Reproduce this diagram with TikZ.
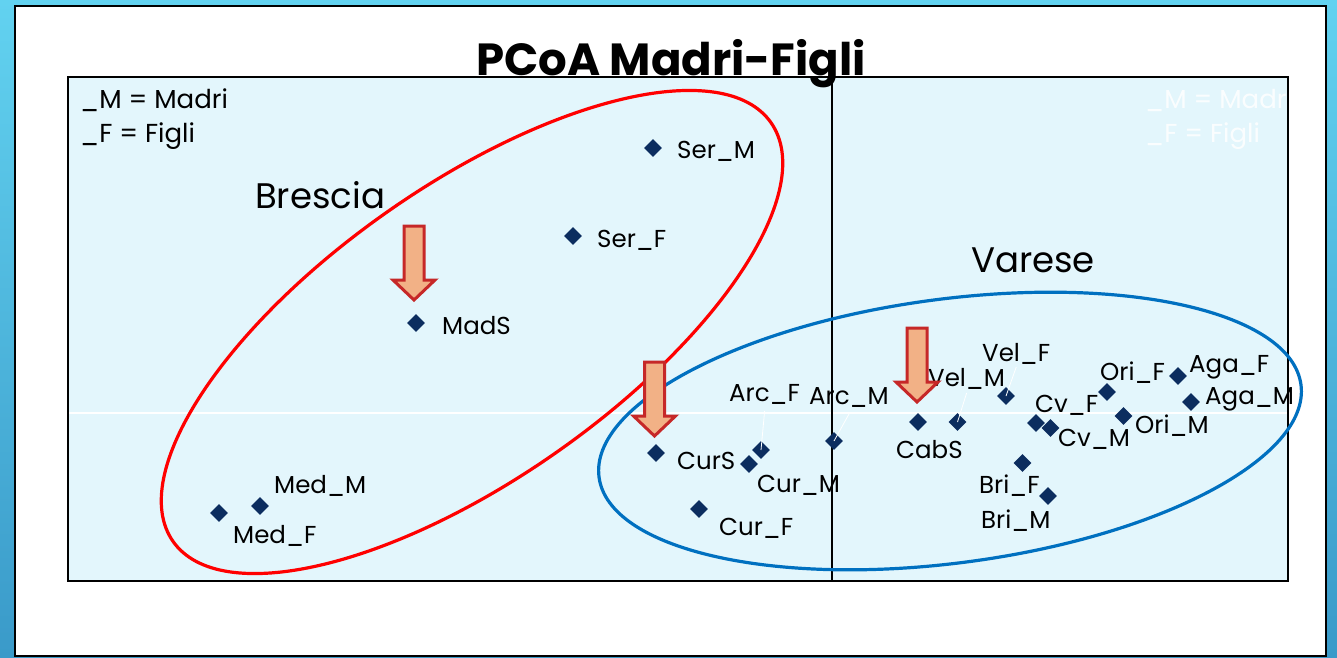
\documentclass[tikz,border=0pt]{standalone}
\usepackage{fontspec}
\setmainfont{Poppins}
\usetikzlibrary{shapes.geometric}

\definecolor{slidetop}{HTML}{62D2F0}
\definecolor{slidebot}{HTML}{3A9AC9}
\definecolor{plotbg}{HTML}{E3F6FC}
\definecolor{navy}{HTML}{0C2D5F}
\definecolor{brescia}{HTML}{FF0000}
\definecolor{varese}{HTML}{0070C0}
\definecolor{arrowfill}{HTML}{F2B186}
\definecolor{arrowline}{HTML}{C62828}

\tikzset{
  pt/.style={diamond, fill=navy, draw=none, inner sep=0pt, minimum size=18pt},
  lab/.style={anchor=base west, inner sep=0pt, text=black, font=\fontsize{24.5}{28}\selectfont},
  legend/.style={anchor=base west, inner sep=0pt, font=\fontsize{26}{30}\selectfont},
  group/.style={anchor=base west, inner sep=0pt, font=\fontsize{35.5}{42}\selectfont},
  leader/.style={draw=white, line width=0.8pt},
  cluster/.style={line width=3.2pt},
  downblk/.pic={
    \draw[draw=arrowline, fill=arrowfill, line width=3pt, line join=miter]
      (-10,0) -- (10,0) -- (10,54) -- (21,54) -- (0,74) -- (-21,54) -- (-10,54) -- cycle;
  }
}

\begin{document}
\begin{tikzpicture}[x=1pt,y=-1pt]
\useasboundingbox (0,0) rectangle (1337,657);

% slide background and white sheet
\shade[top color=slidetop, bottom color=slidebot] (0,0) rectangle (1337,657);
\draw[line width=2pt, fill=white] (15,6) rectangle (1326,656);

% plot area
\fill[plotbg] (68,77) rectangle (1288,581);
\begin{scope}
  \clip (68,77) rectangle (1288,581);
  \node[legend, text=white, opacity=0.85] (legmw) at (1145,108) {\_M = Madri};
  \node[legend, text=white, opacity=0.85] (legfw) at (1145,142) {\_F = Figli};
\end{scope}
\draw[white, line width=1.2pt] (68,413) -- (1288,413);
\draw[black, line width=2pt] (831.5,77) -- (831.5,581);
\draw[black, line width=2.2pt] (68,77) rectangle (1288,581);

% legend
\node[legend] (legm) at (80,108) {\_M = Madri};
\node[legend] (legf) at (80,142) {\_F = Figli};

% groups
\draw[cluster, draw=brescia, rotate around={35:(472,332)}] (472,332) ellipse [x radius=365pt, y radius=147pt];
\draw[cluster, draw=varese, rotate around={7.5:(950,431)}] (950,431) ellipse [x radius=354pt, y radius=132pt];
\node[group] (gbs) at (255,208) {Brescia};
\node[group] (gva) at (971,272) {Varese};

% points
\node[pt] (serm) at (653,148) {};
\node[pt] (serf) at (573,236) {};
\node[pt] (mads) at (416,323) {};
\node[pt] (medm) at (260,506) {};
\node[pt] (medf) at (219,513) {};
\node[pt] (curs) at (656,453) {};
\node[pt] (arcf) at (761,450) {};
\node[pt] (curm) at (749,464) {};
\node[pt] (arcm) at (834,441) {};
\node[pt] (curf) at (699,509) {};
\node[pt] (cabs) at (918,422) {};
\node[pt] (velm) at (957.5,422) {};
\node[pt] (velf) at (1006,396) {};
\node[pt] (cvf) at (1036,423) {};
\node[pt] (cvm) at (1050.5,428) {};
\node[pt] (orif) at (1107,392) {};
\node[pt] (orim) at (1123.5,416) {};
\node[pt] (agaf) at (1178,376) {};
\node[pt] (agam) at (1191,402) {};
\node[pt] (brif) at (1022.5,463) {};
\node[pt] (brim) at (1048,496) {};

% point labels
\node[lab] (serm-l) at (677,158) {Ser\_M};
\node[lab] (serf-l) at (597,247) {Ser\_F};
\node[lab] (mads-l) at (442,334) {MadS};
\node[lab] (medm-l) at (274,493) {Med\_M};
\node[lab] (medf-l) at (233,543) {Med\_F};
\node[lab] (curs-l) at (677,469) {CurS};
\node[lab] (arcf-l) at (729,401) {Arc\_F};
\node[lab] (curm-l) at (757,492) {Cur\_M};
\node[lab] (arcm-l) at (809,404) {Arc\_M};
\node[lab] (curf-l) at (719,535) {Cur\_F};
\node[lab] (cabs-l) at (896,458) {CabS};
\node[lab] (velm-l) at (928,386) {Vel\_M};
\node[lab] (velf-l) at (982,361) {Vel\_F};
\node[lab] (cvf-l) at (1035,412) {Cv\_F};
\node[lab] (cvm-l) at (1058,446) {Cv\_M};
\node[lab] (orif-l) at (1100,380) {Ori\_F};
\node[lab] (orim-l) at (1135,433) {Ori\_M};
\node[lab] (agaf-l) at (1189,372) {Aga\_F};
\node[lab] (agam-l) at (1205,404) {Aga\_M};
\node[lab] (brif-l) at (979,493) {Bri\_F};
\node[lab] (brim-l) at (981,528) {Bri\_M};

% leader lines
\draw[leader] (arcf.center) -- ([yshift=-10pt]arcf-l.base);
\draw[leader] (arcm.center) -- ([yshift=-10pt]arcm-l.base);
\draw[leader] (velm.center) -- ([yshift=-7pt]velm-l.base);
\draw[leader] (velf.center) -- ([yshift=-6pt]velf-l.base);

% shift arrows
\pic at (414,226) {downblk};
\pic at (654.5,362) {downblk};
\pic at (917,328) {downblk};

% title
\node[anchor=base, inner sep=0pt, font=\fontsize{45}{50}\selectfont\bfseries] (title) at (671,75) {PCoA Madri-Figli};
\end{tikzpicture}
\end{document}
